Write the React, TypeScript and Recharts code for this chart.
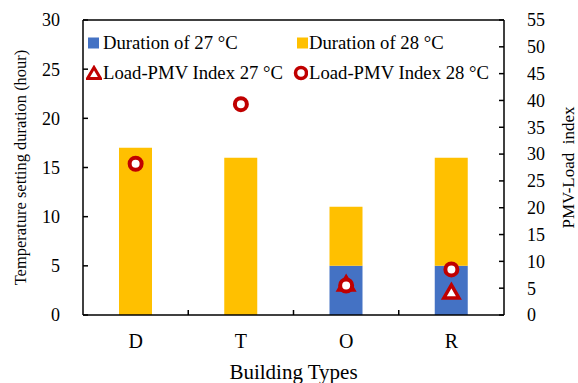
import {
  ComposedChart,
  Bar,
  Scatter,
  XAxis,
  YAxis,
  ReferenceLine,
  Label,
} from "recharts";

const categories = ["D", "T", "O", "R"];
const duration27 = [0, 0, 5, 5];
const duration28 = [17, 16, 6, 11];
const pmv27 = [null, null, 5.8, 4.3];
const pmv28 = [28.2, 39.3, 5.5, 8.5];
const leftTicks = [0, 5, 10, 15, 20, 25, 30];
const rightTicks = [0, 5, 10, 15, 20, 25, 30, 35, 40, 45, 50, 55];

const BLUE = "#4472C4";
const GOLD = "#FFC000";
const RED = "#C00000";
const FONT = '"Liberation Serif", "Times New Roman", serif';

const CHART_W = 578;
const CHART_H = 383;
const TOP = 20;
const LEFT_W = 83;
const RIGHT_W = 74;
const XAXIS_H = 68;
const PLOT_W = CHART_W - LEFT_W - RIGHT_W;
const PLOT_BOTTOM = CHART_H - XAXIS_H;

const chartData = categories.map((name, i) => ({
  name,
  d27: duration27[i],
  d28: duration28[i],
  p27: pmv27[i],
  p28: pmv28[i],
}));

function RingShape(props: any) {
  const { cx, cy, payload } = props;
  if (payload?.p28 == null || cx == null || cy == null) return <g />;
  return <circle cx={cx} cy={cy} r={6} fill="#fff" stroke={RED} strokeWidth={4} />;
}

function TriangleShape(props: any) {
  const { cx, cy, payload } = props;
  if (payload?.p27 == null || cx == null || cy == null) return <g />;
  const d = `M${cx},${cy - 7} L${cx + 7.5},${cy + 6} L${cx - 7.5},${cy + 6} Z`;
  return <path d={d} fill="#fff" stroke={RED} strokeWidth={3.5} />;
}

// inward ticks on the borders between the building bands
function BandBorderTicks() {
  const band = PLOT_W / categories.length;
  return (
    <svg
      width={CHART_W}
      height={CHART_H}
      style={{ position: "absolute", left: 0, top: 0, pointerEvents: "none" }}
    >
      {categories.slice(1).map((c, i) => {
        const x = LEFT_W + band * (i + 1);
        return (
          <line
            key={c}
            x1={x}
            x2={x}
            y1={PLOT_BOTTOM}
            y2={PLOT_BOTTOM - 5}
            stroke="#000"
            strokeWidth={1.5}
          />
        );
      })}
    </svg>
  );
}

function LegendItem({ icon, text }: { icon: React.ReactNode; text: string }) {
  return (
    <div style={{ display: "flex", alignItems: "center", width: 206 }}>
      <svg width={16} height={16} style={{ flex: "none" }}>
        {icon}
      </svg>
      <span style={{ marginLeft: 1, whiteSpace: "nowrap" }}>{text}</span>
    </div>
  );
}

function ChartLegend() {
  return (
    <div
      style={{
        position: "absolute",
        left: 86,
        top: 28,
        fontFamily: FONT,
        fontSize: 18.7,
        color: "#000",
        lineHeight: "26px",
      }}
    >
      <div style={{ display: "flex", height: 30, alignItems: "center" }}>
        <LegendItem
          icon={<rect x={2} y={2.5} width={11} height={11} fill={BLUE} />}
          text="Duration of 27 °C"
        />
        <LegendItem
          icon={<rect x={5} y={2.5} width={11} height={11} fill={GOLD} />}
          text="Duration of 28 °C"
        />
      </div>
      <div style={{ display: "flex", height: 30, alignItems: "center" }}>
        <LegendItem
          icon={<path d="M8,2.5 L14.5,13.5 L1.5,13.5 Z" fill="#fff" stroke={RED} strokeWidth={3} />}
          text="Load-PMV Index 27 °C"
        />
        <LegendItem
          icon={<circle cx={9} cy={8} r={5.5} fill="#fff" stroke={RED} strokeWidth={3.5} />}
          text="Load-PMV Index 28 °C"
        />
      </div>
    </div>
  );
}

export default function App() {
  const tickStyle = { fill: "#000", fontSize: 18, fontFamily: FONT };
  return (
    <div style={{ position: "relative", width: CHART_W, height: CHART_H, background: "#fff" }}>
      <style>{"body{margin:0}"}</style>
      <ComposedChart
        width={CHART_W}
        height={CHART_H}
        data={chartData}
        margin={{ top: TOP, right: 0, bottom: 0, left: 0 }}
      >
        <XAxis
          xAxisId="main"
          dataKey="name"
          type="category"
          height={XAXIS_H}
          axisLine={{ stroke: "#000", strokeWidth: 1.5 }}
          tickLine={false}
          tickSize={0}
          tickMargin={19}
          interval={0}
          tick={{ fill: "#000", fontSize: 20, fontFamily: FONT }}
        >
          <Label
            value="Building Types"
            position="insideBottom"
            offset={4}
            style={{ fontSize: 21, fontFamily: FONT, fill: "#000" }}
          />
        </XAxis>
        <YAxis
          yAxisId="left"
          orientation="left"
          width={LEFT_W}
          domain={[0, 30]}
          ticks={leftTicks}
          interval={0}
          axisLine={{ stroke: "#000", strokeWidth: 1.5 }}
          tickLine={{ stroke: "#000", strokeWidth: 1.5 }}
          tickSize={-5}
          tickMargin={28}
          tick={tickStyle}
        >
          <Label
            value="Temperature setting duration (hour)"
            angle={-90}
            position="center"
            dx={-21}
            style={{ fontSize: 16.5, fontFamily: FONT, fill: "#000", textAnchor: "middle" }}
          />
        </YAxis>
        <YAxis
          yAxisId="right"
          orientation="right"
          width={RIGHT_W}
          domain={[0, 55]}
          ticks={rightTicks}
          interval={0}
          axisLine={{ stroke: "#000", strokeWidth: 1.5 }}
          tickLine={{ stroke: "#000", strokeWidth: 1.5 }}
          tickSize={-5}
          tickMargin={28}
          tick={tickStyle}
        >
          <Label
            value={"PMV-Load\u00a0 index"}
            angle={-90}
            position="center"
            dx={27}
            style={{ fontSize: 17, fontFamily: FONT, fill: "#000", textAnchor: "middle" }}
          />
        </YAxis>
        <ReferenceLine
          xAxisId="main"
          yAxisId="left"
          y={30}
          stroke="#000"
          strokeWidth={1.5}
        />
        <Bar
          xAxisId="main"
          yAxisId="left"
          dataKey="d27"
          stackId="dur"
          fill={BLUE}
          barSize={33}
          isAnimationActive={false}
        />
        <Bar
          xAxisId="main"
          yAxisId="left"
          dataKey="d28"
          stackId="dur"
          fill={GOLD}
          barSize={33}
          isAnimationActive={false}
        />
        <Scatter
          xAxisId="main"
          yAxisId="right"
          dataKey="p27"
          shape={<TriangleShape />}
          isAnimationActive={false}
        />
        <Scatter
          xAxisId="main"
          yAxisId="right"
          dataKey="p28"
          shape={<RingShape />}
          isAnimationActive={false}
        />
      </ComposedChart>
      <BandBorderTicks />
      <ChartLegend />
    </div>
  );
}
